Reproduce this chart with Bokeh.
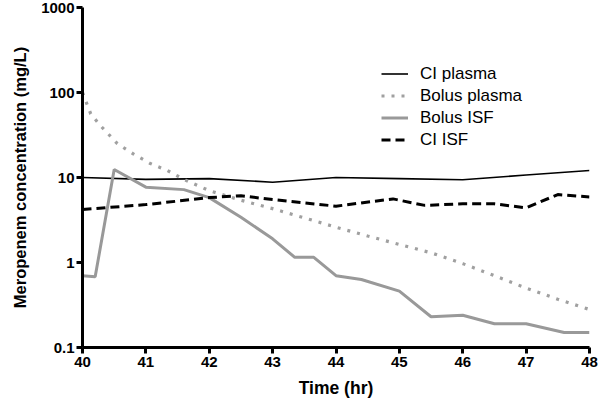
from bokeh.plotting import figure
from bokeh.models import Range1d, FixedTicker, CustomJSTickFormatter, Legend, LegendItem
from bokeh.embed import file_html
from bokeh.resources import INLINE

# ---- data ----
ci_plasma_t = [40, 41, 42, 43, 44, 45, 46, 47, 48]
ci_plasma_c = [10.0, 9.5, 9.7, 8.8, 10.0, 9.7, 9.4, 10.7, 12.1]

bolus_plasma_t = [40, 40.13, 40.28, 40.55, 40.8, 41.07, 41.34, 41.6, 42, 42.5, 43, 43.5, 44, 44.5, 45, 45.5, 46, 46.5, 47, 47.5, 48]
bolus_plasma_c = [100, 56, 41, 25, 19, 14.6, 12.1, 9.5, 7.0, 5.4, 4.3, 3.35, 2.6, 2.05, 1.63, 1.3, 0.97, 0.7, 0.5, 0.37, 0.28]

bolus_isf_t = [40, 40.2, 40.5, 41, 41.6, 42, 42.5, 43, 43.35, 43.65, 44, 44.4, 45, 45.5, 46, 46.5, 47, 47.6, 48]
bolus_isf_c = [0.7, 0.68, 12.4, 7.7, 7.2, 5.8, 3.4, 1.9, 1.15, 1.15, 0.7, 0.63, 0.46, 0.23, 0.24, 0.19, 0.19, 0.15, 0.15]

ci_isf_t = [40, 41, 42, 42.5, 43, 44, 44.9, 45.4, 46, 46.5, 47, 47.5, 48]
ci_isf_c = [4.2, 4.8, 5.8, 6.1, 5.5, 4.6, 5.6, 4.7, 4.9, 4.9, 4.4, 6.3, 5.9]

x_ticks = [40, 41, 42, 43, 44, 45, 46, 47, 48]
y_ticks = [0.1, 1, 10, 100, 1000]

series_names = ["CI plasma", "Bolus plasma", "Bolus ISF", "CI ISF"]

FONT = "Liberation Sans"

p = figure(width=600, height=401, y_axis_type="log",
           x_range=Range1d(40, 48), y_range=Range1d(0.1, 1000),
           output_backend="svg", toolbar_location=None,
           min_border_left=82, min_border_right=11, min_border_top=7, min_border_bottom=54)
p.outline_line_color = None
p.xgrid.grid_line_color = None
p.ygrid.grid_line_color = None
p.background_fill_color = "white"
p.border_fill_color = "white"

r1 = p.line(ci_plasma_t, ci_plasma_c, line_color="black", line_width=1.6)
r2 = p.line(bolus_plasma_t, bolus_plasma_c, line_color="#a0a0a0", line_width=3.2, line_dash="3 7")
r3 = p.line(bolus_isf_t, bolus_isf_c, line_color="#999999", line_width=3)
r4 = p.line(ci_isf_t, ci_isf_c, line_color="black", line_width=3, line_dash="9 5")

for ax in (p.xaxis[0], p.yaxis[0]):
    ax.axis_line_width = 3
    ax.axis_line_color = "black"
    ax.major_tick_line_width = 3
    ax.major_tick_line_color = "black"
    ax.major_tick_out = 6
    ax.major_tick_in = 0
    ax.minor_tick_line_color = None
    ax.major_label_text_font = FONT
    ax.major_label_text_font_style = "bold"
    ax.major_label_text_font_size = "15px"
    ax.major_label_text_color = "black"
    ax.axis_label_text_font = FONT
    ax.axis_label_text_font_style = "bold"
    ax.axis_label_text_color = "black"

p.xaxis.axis_label_text_font_size = "17.5px"
p.yaxis.axis_label_text_font_size = "16.5px"
p.xaxis.ticker = FixedTicker(ticks=x_ticks)
p.yaxis.ticker = FixedTicker(ticks=y_ticks)
p.yaxis.formatter = CustomJSTickFormatter(code="return tick.toString();")
p.xaxis.major_label_standoff = 3
p.yaxis.major_label_standoff = 2
p.xaxis.axis_label = "Time (hr)"
p.yaxis.axis_label = "Meropenem concentration (mg/L)"
p.xaxis.axis_label_standoff = 8
p.yaxis.axis_label_standoff = 9

legend = Legend(items=[LegendItem(label=n, renderers=[r]) for n, r in zip(series_names, [r1, r2, r3, r4])],
                location=(299, 197), border_line_color=None, background_fill_alpha=0,
                label_text_font=FONT, label_text_font_size="17px", label_text_color="black",
                glyph_width=27, glyph_height=21, label_height=21, label_standoff=12,
                spacing=1, padding=0, margin=0)
p.add_layout(legend, "center")

open("out.html", "w").write(file_html(p, INLINE))
